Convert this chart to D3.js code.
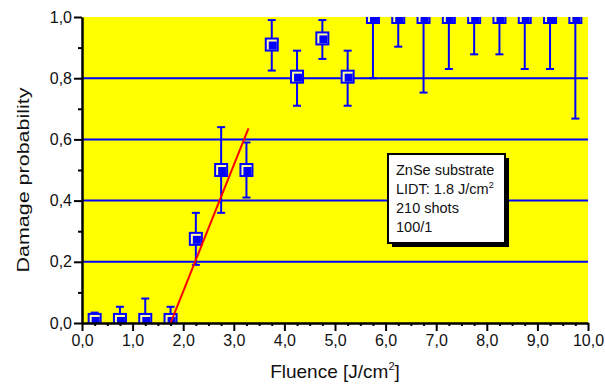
<!DOCTYPE html>
<html>
<head>
<meta charset="utf-8">
<script src="https://cdn.jsdelivr.net/npm/d3@7"></script>
<style>
  body { margin: 0; background: #fff; }
  svg { display: block; font-family: "Liberation Sans", Arial, sans-serif; }
</style>
</head>
<body>
<svg id="chart" width="605" height="386"></svg>
<script>
// data
var fluence = [0.25, 0.75, 1.25, 1.75, 2.25, 2.75, 3.25, 3.75, 4.25, 4.75,
               5.25, 5.75, 6.25, 6.75, 7.25, 7.75, 8.25, 8.75, 9.25, 9.75];
var prob    = [0.01, 0.01, 0.01, 0.01, 0.275, 0.5, 0.5, 0.91, 0.805, 0.93,
               0.805, 1, 1, 1, 1, 1, 1, 1, 1, 1];
var errLow  = [0.01, 0.01, 0.01, 0.01, 0.085, 0.14, 0.09, 0.085, 0.095, 0.067,
               0.095, 0.2, 0.097, 0.247, 0.17, 0.122, 0.122, 0.17, 0.17, 0.332];
var errHigh = [0.024, 0.043, 0.07, 0.043, 0.085, 0.14, 0.09, 0.08, 0.085, 0.06,
               0.085, 0.2, 0.097, 0.247, 0.17, 0.122, 0.122, 0.17, 0.17, 0.332];
var fitX = [1.75, 3.29];
var fitY = [0, 0.636];
var xTicks = [0, 1, 2, 3, 4, 5, 6, 7, 8, 9, 10];
var yTicks = [0, 0.2, 0.4, 0.6, 0.8, 1.0];
var gridValues = [0.2, 0.4, 0.6, 0.8];
var noteLines = ['ZnSe substrate', 'LIDT: 1.8 J/cm', '210 shots', '100/1'];

var svg = d3.select('#chart');
var blue = '#0000ff';

var x = d3.scaleLinear().domain([0, 10]).range([82, 588]);
var y = d3.scaleLinear().domain([0, 1]).range([323, 17]);

var points = fluence.map(function(f, i) {
    return {x: f, y: prob[i], lo: prob[i] - errLow[i], hi: prob[i] + errHigh[i]};
});

// plot background
svg.append('rect')
    .attr('x', x(0)).attr('y', y(1))
    .attr('width', x(10) - x(0)).attr('height', y(0) - y(1))
    .attr('fill', '#ffff00');

svg.append('clipPath').attr('id', 'plotClip')
  .append('rect')
    .attr('x', x(0)).attr('y', y(1))
    .attr('width', x(10) - x(0)).attr('height', y(0) - y(1));

// horizontal grid
svg.selectAll('.grid').data(gridValues).enter().append('line')
    .attr('class', 'grid')
    .attr('x1', x(0)).attr('x2', x(10))
    .attr('y1', function(d) { return y(d); })
    .attr('y2', function(d) { return y(d); })
    .attr('stroke', blue).attr('stroke-width', 2);

var plotG = svg.append('g').attr('clip-path', 'url(#plotClip)');

// error bars
var err = plotG.selectAll('.err').data(points).enter().append('g').attr('class', 'err');
err.append('line')
    .attr('x1', function(d) { return x(d.x); })
    .attr('x2', function(d) { return x(d.x); })
    .attr('y1', function(d) { return y(d.lo); })
    .attr('y2', function(d) { return y(d.hi); })
    .attr('stroke', blue).attr('stroke-width', 2);
err.selectAll('.cap').data(function(d) { return [[d.x, d.lo], [d.x, d.hi]]; })
  .enter().append('line')
    .attr('x1', function(d) { return x(d[0]) - 4; })
    .attr('x2', function(d) { return x(d[0]) + 4; })
    .attr('y1', function(d) { return y(d[1]); })
    .attr('y2', function(d) { return y(d[1]); })
    .attr('stroke', blue).attr('stroke-width', 2);

// markers: outlined square with a filled inner square offset down-right
var s = 12;
var mk = plotG.selectAll('.mk').data(points).enter().append('g').attr('class', 'mk');
mk.append('rect')
    .attr('x', function(d) { return x(d.x) - s / 2; })
    .attr('y', function(d) { return y(d.y) - s / 2; })
    .attr('width', s).attr('height', s)
    .attr('fill', '#ffffa0').attr('stroke', blue).attr('stroke-width', 2);
mk.append('rect')
    .attr('x', function(d) { return x(d.x) - s / 2 + 3; })
    .attr('y', function(d) { return y(d.y) - s / 2 + 3; })
    .attr('width', s - 4).attr('height', s - 4)
    .attr('fill', blue);

// fit line
plotG.append('line')
    .attr('x1', x(fitX[0])).attr('y1', y(fitY[0]))
    .attr('x2', x(fitX[1])).attr('y2', y(fitY[1]))
    .attr('stroke', '#ff0000').attr('stroke-width', 2);

// axes
var fmt = function(d) { return d3.format('.1f')(d).replace('.', ','); };

var xAxis = svg.append('g')
    .attr('transform', 'translate(0,' + y(0) + ')')
    .call(d3.axisBottom(x).tickValues(xTicks).tickFormat(fmt).tickSize(8).tickSizeOuter(0));
svg.append('g')
    .attr('transform', 'translate(0,' + y(0) + ')')
    .call(d3.axisBottom(x).tickValues(d3.range(0.25, 10, 0.25).filter(function(v) { return v % 1 !== 0; }))
        .tickFormat('').tickSize(3).tickSizeOuter(0))
    .call(function(g) { g.select('.domain').remove(); });

var yAxis = svg.append('g')
    .attr('transform', 'translate(' + x(0) + ',0)')
    .call(d3.axisLeft(y).tickValues(yTicks).tickFormat(fmt).tickSize(8).tickSizeOuter(0));
svg.append('g')
    .attr('transform', 'translate(' + x(0) + ',0)')
    .call(d3.axisLeft(y).tickValues([0.1, 0.3, 0.5, 0.7, 0.9]).tickFormat('').tickSize(4).tickSizeOuter(0))
    .call(function(g) { g.select('.domain').remove(); });

svg.selectAll('.domain').attr('stroke', '#000').attr('stroke-width', 2.5);
svg.selectAll('.tick line').attr('stroke', '#000').attr('stroke-width', 2);
svg.selectAll('g.tick text')
    .style('font-size', '16px').attr('fill', '#111')
    .style('font-family', '"Liberation Sans", Arial, sans-serif');
xAxis.selectAll('.tick text').attr('y', 12).attr('dy', '0.71em');
yAxis.selectAll('.tick text').attr('x', -10);

// axis titles (the y title is stretched lengthwise in the original)
svg.append('text')
    .attr('transform', 'translate(29,180) rotate(-90)')
    .attr('text-anchor', 'middle')
    .attr('textLength', 185).attr('lengthAdjust', 'spacingAndGlyphs')
    .style('font-size', '16.5px').attr('fill', '#111')
    .text('Damage probability');

var xt = svg.append('text')
    .attr('x', x(5)).attr('y', 378)
    .attr('text-anchor', 'middle')
    .style('font-size', '19px').attr('fill', '#111');
xt.append('tspan').text('Fluence [J/cm');
xt.append('tspan').style('font-size', '11px').attr('dy', -8).text('2');
xt.append('tspan').attr('dy', 8).text(']');

// annotation box with shadow
var bx = 388, by = 154, bw = 117, bh = 89;
svg.append('rect')
    .attr('x', bx + 4).attr('y', by + 4).attr('width', bw).attr('height', bh)
    .attr('fill', '#000');
svg.append('rect')
    .attr('x', bx).attr('y', by).attr('width', bw).attr('height', bh)
    .attr('fill', '#fff').attr('stroke', '#000').attr('stroke-width', 2);

var note = svg.append('g').style('font-size', '14.5px').attr('fill', '#111');
note.selectAll('text').data(noteLines).enter().append('text')
    .attr('x', bx + 8)
    .attr('y', function(d, i) { return by + 21 + i * 19; })
    .each(function(d, i) {
        var t = d3.select(this);
        t.append('tspan').text(d);
        if (i === 1) t.append('tspan').style('font-size', '9px').attr('dy', -6).text('2');
    });
</script>
</body>
</html>
